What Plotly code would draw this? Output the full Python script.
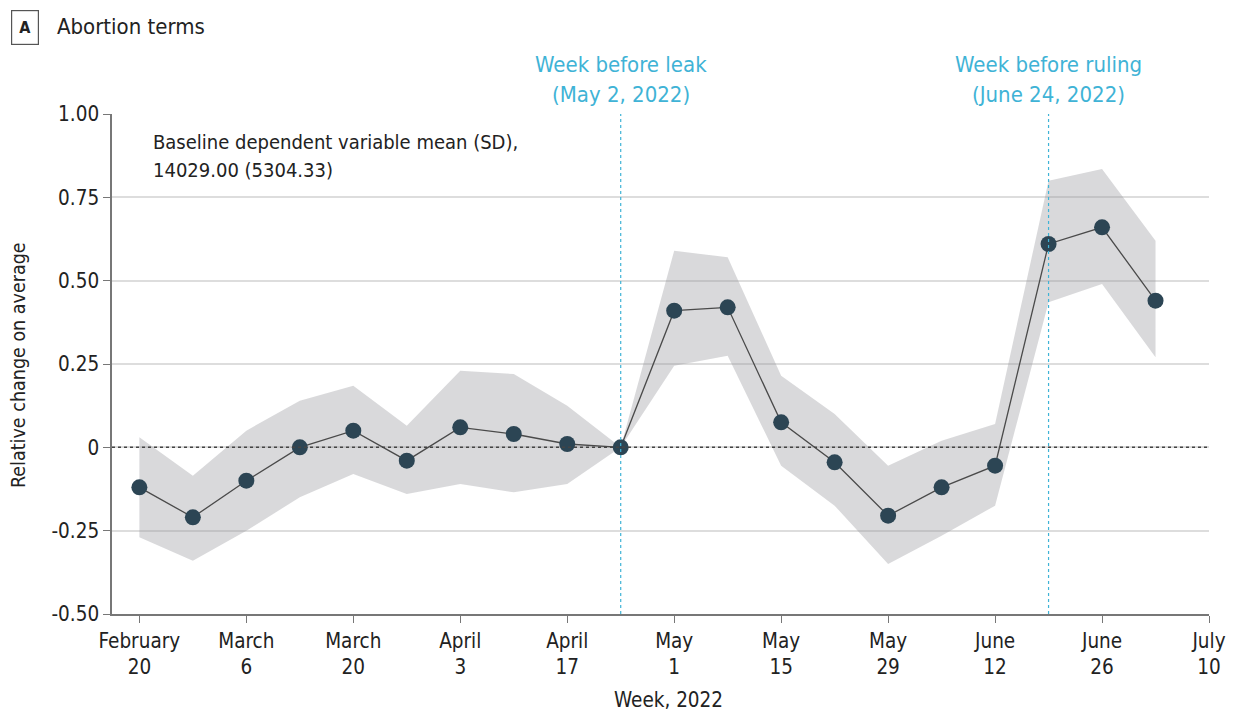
import plotly.graph_objects as go

# weekly estimates, week starting dates (2022)
weeks = ["2022-02-20", "2022-02-27", "2022-03-06", "2022-03-13", "2022-03-20",
         "2022-03-27", "2022-04-03", "2022-04-10", "2022-04-17", "2022-04-24",
         "2022-05-01", "2022-05-08", "2022-05-15", "2022-05-22", "2022-05-29",
         "2022-06-05", "2022-06-12", "2022-06-19", "2022-06-26", "2022-07-03"]
estimate = [-0.12, -0.21, -0.10, 0.00, 0.05, -0.04, 0.06, 0.04, 0.01, 0.00,
            0.41, 0.42, 0.075, -0.045, -0.205, -0.12, -0.055, 0.61, 0.66, 0.44]
ci_upper = [0.03, -0.085, 0.05, 0.14, 0.185, 0.065, 0.23, 0.22, 0.125, 0.00,
            0.59, 0.57, 0.215, 0.10, -0.055, 0.02, 0.07, 0.80, 0.835, 0.62]
ci_lower = [-0.27, -0.34, -0.25, -0.15, -0.08, -0.14, -0.11, -0.135, -0.11, 0.00,
            0.245, 0.275, -0.055, -0.175, -0.35, -0.265, -0.175, 0.435, 0.49, 0.27]

tick_dates = ["2022-02-20", "2022-03-06", "2022-03-20", "2022-04-03", "2022-04-17",
              "2022-05-01", "2022-05-15", "2022-05-29", "2022-06-12", "2022-06-26",
              "2022-07-10"]
tick_labels = ["February<br>20", "March<br>6", "March<br>20", "April<br>3", "April<br>17",
               "May<br>1", "May<br>15", "May<br>29", "June<br>12", "June<br>26",
               "July<br>10"]
y_ticks = [-0.5, -0.25, 0, 0.25, 0.5, 0.75, 1.0]
y_labels = ["-0.50", "-0.25", "0", "0.25", "0.50", "0.75", "1.00"]

events = [("2022-04-24", "Week before leak", "(May 2, 2022)"),
          ("2022-06-19", "Week before ruling", "(June 24, 2022)")]

FONT = "DejaVu Sans Condensed, Liberation Sans Narrow, Roboto, sans-serif"
EVENT_COLOR = "#3fb3d6"
TEXT = "#222222"

fig = go.Figure()

# confidence band
fig.add_trace(go.Scatter(x=weeks, y=ci_upper, mode="lines",
                         line=dict(width=0), hoverinfo="skip", showlegend=False))
fig.add_trace(go.Scatter(x=weeks, y=ci_lower, mode="lines", fill="tonexty",
                         fillcolor="rgba(150,150,156,0.36)", line=dict(width=0),
                         hoverinfo="skip", showlegend=False))

# zero reference line, dotted, drawn over the band
fig.add_hline(y=0, line=dict(color="#444444", width=1.5, dash="dot"))

# event lines + labels (two lines each)
for d, l1, l2 in events:
    fig.add_vline(x=d, line=dict(color=EVENT_COLOR, width=1.2, dash="dot"))
    for txt, yy in ((l1, 1.098), (l2, 1.038)):
        fig.add_annotation(x=d, y=yy, xref="x", yref="paper", text=txt,
                           showarrow=False, xanchor="center", yanchor="middle",
                           font=dict(size=22, color=EVENT_COLOR, family=FONT))

fig.add_trace(go.Scatter(x=weeks, y=estimate, mode="lines+markers",
                         line=dict(color="#4a4a4a", width=1.3),
                         marker=dict(size=16, color="#2c4554"),
                         showlegend=False))

# baseline note
for txt, yy in (("Baseline dependent variable mean (SD),", 0.944),
                ("14029.00 (5304.33)", 0.888)):
    fig.add_annotation(x=0.036, y=yy, xref="paper", yref="paper", text=txt,
                       showarrow=False, xanchor="left", yanchor="middle",
                       font=dict(size=20, color=TEXT, family=FONT))

# panel label
fig.add_annotation(x=-0.0793, y=1.174, xref="paper", yref="paper", text="<b>A</b>",
                   showarrow=False, xanchor="center", yanchor="middle",
                   bordercolor="#555555", borderwidth=1.2,
                   borderpad=7, bgcolor="white",
                   font=dict(size=16, color=TEXT, family=FONT))
fig.add_annotation(x=-0.052, y=1.176, xref="paper", yref="paper", text="Abortion terms",
                   showarrow=False, xanchor="left", yanchor="middle",
                   font=dict(size=22, color=TEXT, family=FONT))

# axis titles
fig.add_annotation(x=-0.0857, y=0.498, xref="paper", yref="paper",
                   text="Relative change on average", textangle=-90,
                   showarrow=False, xanchor="center", yanchor="middle",
                   font=dict(size=19.5, color=TEXT, family=FONT))
fig.add_annotation(x=0.507, y=-0.171, xref="paper", yref="paper",
                   text="Week, 2022", showarrow=False,
                   xanchor="center", yanchor="middle",
                   font=dict(size=20.5, color=TEXT, family=FONT))

fig.update_layout(
    width=1220, height=704,
    margin=dict(l=104, r=19, t=106, b=98),
    plot_bgcolor="white", paper_bgcolor="white",
    font=dict(family=FONT, size=20.5, color=TEXT),
    xaxis=dict(
        range=["2022-02-16 10:00", "2022-07-10"],
        tickvals=tick_dates, ticktext=tick_labels,
        showgrid=False, zeroline=False, automargin=False,
        showline=True, linecolor="#777777", linewidth=2,
        ticks="outside", ticklen=7, tickcolor="#777777",
    ),
    yaxis=dict(
        range=[-0.5, 1.0],
        tickvals=y_ticks, ticktext=y_labels,
        showgrid=True, gridcolor="#dddddd", gridwidth=1.5,
        zeroline=False, automargin=False,
        showline=True, linecolor="#777777", linewidth=1.5,
        ticks="outside", ticklen=7, tickcolor="#777777",
    ),
)

fig.write_html("out.html")
